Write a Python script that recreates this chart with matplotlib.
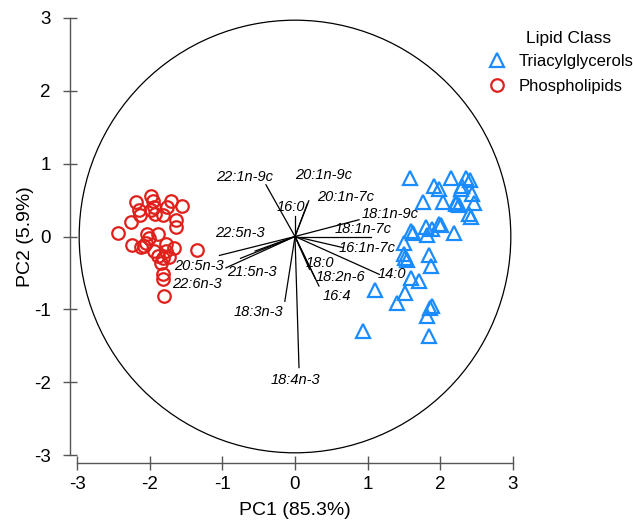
import matplotlib
matplotlib.use("Agg")
import matplotlib.pyplot as plt
from matplotlib.patches import Circle
import numpy as np

plt.rcParams['font.family'] = ['Liberation Sans', 'DejaVu Sans']
plt.rcParams['axes.unicode_minus'] = False

# PCA scores
tag_x = [1.58, 1.91, 1.98, 2.15, 2.35, 2.41, 2.28, 2.44, 1.76, 2.03, 2.21, 2.26, 2.46,
         2.39, 2.42, 1.59, 1.80, 1.89, 1.98, 2.01, 1.81, 2.19, 1.50, 1.50, 1.54, 1.84,
         1.87, 1.59, 1.71, 1.10, 1.52, 1.41, 1.86, 1.82, 0.94, 1.84, 2.30, 1.62, 1.88,
         2.22, 1.52]
tag_y = [0.80, 0.69, 0.65, 0.80, 0.81, 0.77, 0.65, 0.58, 0.48, 0.48, 0.45, 0.43, 0.46,
         0.31, 0.27, 0.08, 0.13, 0.10, 0.17, 0.16, 0.02, 0.05, -0.09, -0.24, -0.32, -0.25,
         -0.41, -0.57, -0.61, -0.74, -0.77, -0.91, -0.98, -1.09, -1.30, -1.37, 0.70, 0.05,
         -0.95, 0.47, -0.30]

pl_x = [-2.19, -1.98, -1.95, -1.94, -1.71, -1.56, -1.76, -2.13, -2.26, -1.92, -1.81,
        -1.64, -1.64, -2.43, -2.03, -1.89, -2.24, -2.12, -2.05, -1.78, -1.66, -1.89,
        -1.81, -1.73, -1.35, -1.81, -1.81, -1.80, -1.98, -2.15, -2.01, -2.08, -1.94,
        -1.78, -1.85]
pl_y = [0.48, 0.56, 0.49, 0.40, 0.49, 0.42, 0.40, 0.30, 0.20, 0.31, 0.29, 0.22, 0.13,
        0.05, 0.03, 0.03, -0.11, -0.15, -0.09, -0.10, -0.16, -0.27, -0.30, -0.28, -0.18,
        -0.51, -0.59, -0.82, 0.37, 0.36, -0.02, -0.13, -0.20, -0.20, -0.36]

# loadings (scaled) and label positions
fa_names = ['22:1n-9c', '20:1n-9c', '20:1n-7c', '16:0', '18:1n-9c', '18:1n-7c',
            '16:1n-7c', '14:0', '18:0', '18:2n-6', '16:4', '18:3n-3', '18:4n-3',
            '22:5n-3', '21:5n-3', '20:5n-3', '22:6n-3']
load_x = [-0.40, 0.17, 0.19, 0.00, 0.88, 1.04, 0.65, 1.16, 0.20, 0.28, 0.33, -0.14,
          0.055, -1.04, -0.75, -0.95, -0.55]
load_y = [0.71, 0.45, 0.49, 0.28, 0.23, 0.00, -0.15, -0.52, -0.45, -0.58, -0.68, -0.89,
          -1.80, -0.26, -0.30, -0.43, -0.20]
lab_x = [-0.70, 0.40, 0.69, -0.06, 1.31, 0.94, 0.99, 1.33, 0.34, 0.63, 0.58, -0.51,
         0.01, -0.76, -0.59, -1.32, -1.35]
lab_y = [0.82, 0.85, 0.54, 0.41, 0.31, 0.10, -0.16, -0.52, -0.36, -0.55, -0.82, -1.04,
         -1.97, 0.05, -0.49, -0.40, -0.65]

blue = '#1a8cff'
red = '#e0201b'
axcol = '#555555'

fig = plt.figure(figsize=(6.33, 5.23), dpi=100)
ax = fig.add_axes([77/633, 68/523, 436/633, 437/523])

ax.add_patch(Circle((0, 0), 2.97, fill=False, ec='black', lw=0.9))

for x, y in zip(load_x, load_y):
    ax.plot([0, x], [0, y], color='black', lw=0.9)
for name, x, y in zip(fa_names, lab_x, lab_y):
    ax.text(x, y, name, fontsize=10.5, style='italic', ha='center', va='center')

ax.plot(tag_x, tag_y, ls='none', marker='^', ms=10, mfc='none', mec=blue, mew=1.6,
        label='Triacylglycerols', clip_on=False)
ax.plot(pl_x, pl_y, ls='none', marker='o', ms=9, mfc='none', mec=red, mew=1.6,
        label='Phospholipids', clip_on=False)

ax.set_xlim(-3, 3)
ax.set_ylim(-3, 3)
ax.set_xticks(np.arange(-3, 4))
ax.set_yticks(np.arange(-3, 4))
for s in ['top', 'right']:
    ax.spines[s].set_visible(False)
ax.spines['left'].set_position(('outward', 5))
ax.spines['bottom'].set_position(('outward', 6))
ax.spines['left'].set_bounds(-3, 3)
ax.spines['bottom'].set_bounds(-3, 3)
for s in ['left', 'bottom']:
    ax.spines[s].set_color(axcol)
    ax.spines[s].set_linewidth(1.0)
ax.tick_params(axis='both', direction='inout', length=10, width=1.0, color=axcol,
               labelsize=13.5)
ax.tick_params(axis='y', pad=9)
ax.tick_params(axis='x', pad=4)

ax.set_xlabel('PC1 (85.3%)', fontsize=14, va='center')
ax.set_ylabel('PC2 (5.9%)', fontsize=14, va='center')
ax.xaxis.set_label_coords(0.5, -0.126)
ax.yaxis.set_label_coords(-0.119, 0.5)

fig.text(569/633, 1 - 38/523, 'Lipid Class', fontsize=12.5, ha='center', va='center')
ax.legend(loc='upper left', bbox_to_anchor=(489/633, 1 - 54/523),
          bbox_transform=fig.transFigure, frameon=False, fontsize=12,
          handletextpad=0.75, borderpad=0, borderaxespad=0, labelspacing=0.62,
          handlelength=1.0)

fig.savefig('out.png', dpi=100)
